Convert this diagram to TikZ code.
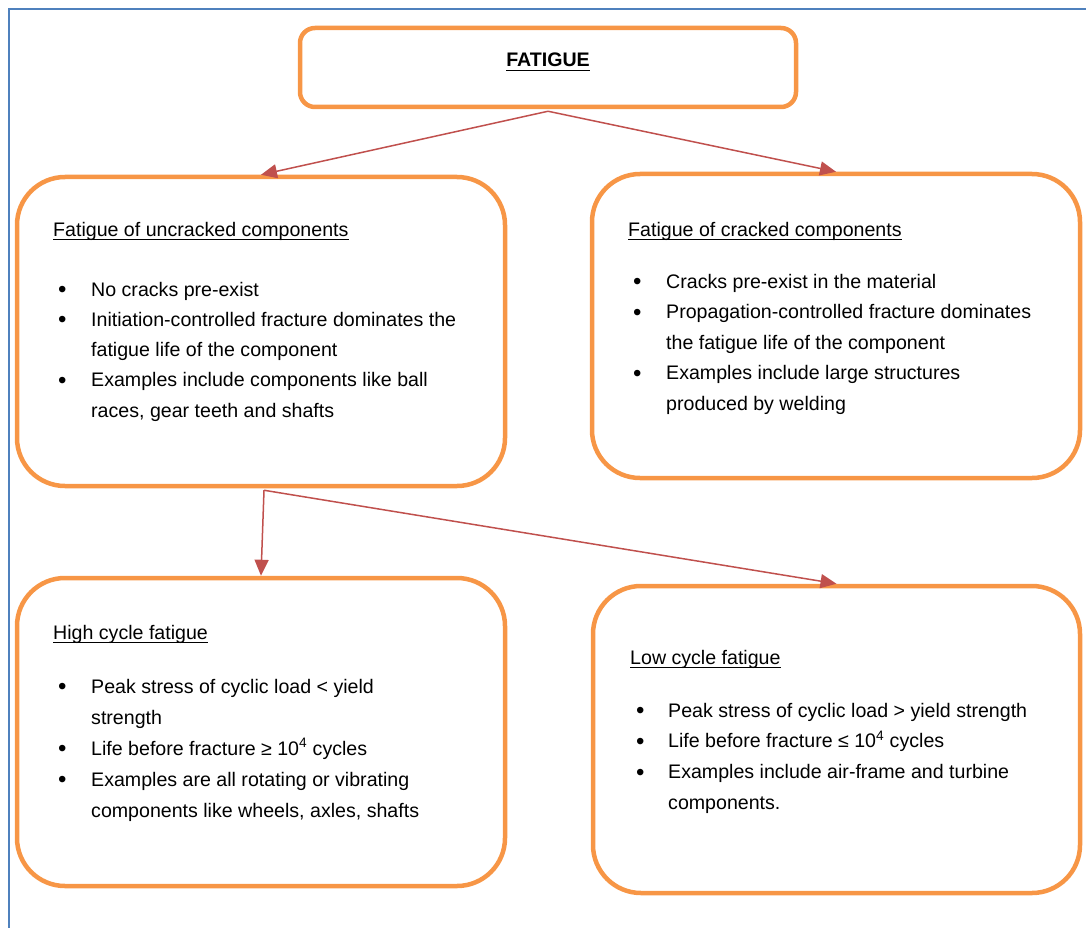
\documentclass[tikz,border=0pt]{standalone}
\usepackage{fontspec}
\setmainfont{Liberation Sans}
\usetikzlibrary{arrows.meta}
\definecolor{boxorange}{HTML}{F79646}
\definecolor{arrowred}{HTML}{C0504D}
\definecolor{frameblue}{HTML}{4F81BD}

% body text size with a given line pitch
\newcommand{\bodyfont}[1]{\fontsize{19.6pt}{#1}\selectfont}
% list bullet, a little heavier than the text bullet
\newcommand{\blt}{\raisebox{-1.6pt}{\fontsize{24pt}{24pt}\selectfont\textbullet}}

\begin{document}
\begin{tikzpicture}[x=1pt,y=-1pt,
  box/.style={rectangle, draw=boxorange, line width=4.5pt, rounded corners=48pt, inner sep=0pt},
  head/.style={anchor=base west, inner sep=0pt, font=\bodyfont{30.5pt}},
  list/.style={anchor=base west, inner sep=0pt, align=left},
  conn/.style={draw=arrowred, line width=1.5pt, -{Triangle[length=16pt,width=14pt]}},
  uline/.style={line width=1.2pt}]

\useasboundingbox (0,0) rectangle (1086,928);

% page frame
\draw[frameblue, line width=2pt] (9,928) -- (9,9) -- (1086,9);

% boxes
\node[box, rounded corners=15pt, minimum width=496pt, minimum height=79pt] (fat) at (548,67.5) {};
\node[box, minimum width=488pt, minimum height=309pt] (unc) at (261,331.5) {};
\node[box, minimum width=488pt, minimum height=304pt] (crk) at (836,326) {};
\node[box, minimum width=488pt, minimum height=308pt] (high) at (261,732) {};
\node[box, minimum width=487pt, minimum height=307pt] (low) at (836.5,739.5) {};

% title
\node[anchor=base, inner sep=0pt, font=\bodyfont{30.5pt}\bfseries] (fatt) at (548,67) {FATIGUE};
\draw[uline] ([yshift=-3.5pt]fatt.base west) -- ([yshift=-3.5pt]fatt.base east);

% headings
\node[head] (unch) at (53,236) {Fatigue of uncracked components};
\node[head] (crkh) at (628,236) {Fatigue of cracked components};
\node[head] (highh) at (53,639) {High cycle fatigue};
\node[head] (lowh) at (630,664) {Low cycle fatigue};
\foreach \h in {unch,crkh,highh,lowh}
  \draw[uline] ([yshift=-3.5pt]\h.base west) -- ([yshift=-3.5pt]\h.base east);

% bullet lists
\node[list] (uncl) at (57.8,296) {\bodyfont{30.3pt}%
\begin{tabular}[t]{@{}p{33.2pt}@{}l@{}}
\blt & No cracks pre-exist\\
\blt & Initiation-controlled fracture dominates the\\
 & fatigue life of the component\\
\blt & Examples include components like ball\\
 & races, gear teeth and shafts
\end{tabular}};

\node[list] (crkl) at (632.8,288) {\bodyfont{30.5pt}%
\begin{tabular}[t]{@{}p{33.2pt}@{}l@{}}
\blt & Cracks pre-exist in the material\\
\blt & Propagation-controlled fracture dominates\\
 & the fatigue life of the component\\
\blt & Examples include large structures\\
 & produced by welding
\end{tabular}};

\node[list] (highl) at (57.8,693) {\bodyfont{31pt}%
\begin{tabular}[t]{@{}p{33.2pt}@{}l@{}}
\blt & Peak stress of cyclic load < yield\\
 & strength\\
\blt & Life before fracture ≥ 10\textsuperscript{4} cycles\\
\blt & Examples are all rotating or vibrating\\
 & components like wheels, axles, shafts
\end{tabular}};

\node[list] (lowl) at (635.8,717) {\bodyfont{30.7pt}%
\begin{tabular}[t]{@{}p{32.2pt}@{}l@{}}
\blt & Peak stress of cyclic load > yield strength\\
\blt & Life before fracture ≤ 10\textsuperscript{4} cycles\\
\blt & Examples include air-frame and turbine\\
 & components.
\end{tabular}};

% connectors
\coordinate (fatfork) at ([yshift=-2pt]fat.south);
\coordinate (uncfork) at ([xshift=3pt,yshift=-2pt]unc.south);
\draw[conn] (fatfork) -- (unc.north);
\draw[conn] (fatfork) -- (crk.north);
\draw[conn] (uncfork) -- (high.north);
\draw[conn] (uncfork) -- (low.north);
\end{tikzpicture}
\end{document}
